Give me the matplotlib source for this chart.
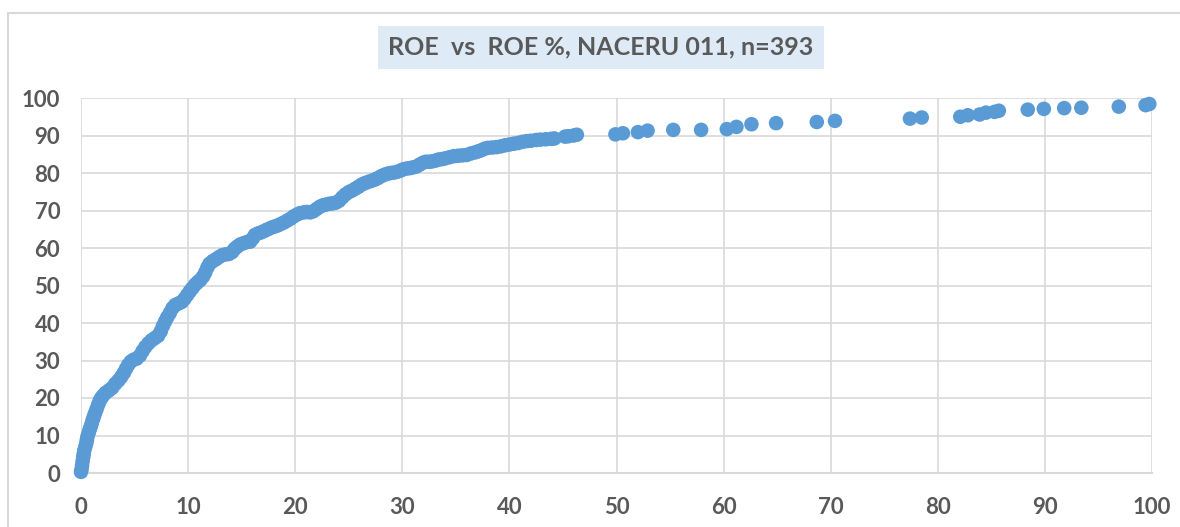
import matplotlib.pyplot as plt
from matplotlib.patches import Rectangle

# ROE (x) and cumulative share in % (y)
roe = [
    0.0, 0.05, 0.1, 0.15, 0.2, 0.25, 0.3, 0.4, 0.5, 0.55, 0.6, 0.7, 0.8, 0.9,
    1.0, 1.1, 1.2, 1.3, 1.45, 1.6, 1.75, 1.9, 2.05,
    2.3, 2.6, 2.9, 3.2, 3.5, 3.75, 4.0, 4.2, 4.4, 4.65, 4.9, 5.2,
    5.5, 5.75, 6.0, 6.3, 6.6, 6.9, 7.2, 7.45, 7.65, 7.85, 8.05, 8.3, 8.55,
    8.8, 9.1, 9.4, 9.65, 9.9, 10.15, 10.4,
    10.65, 10.9, 11.15, 11.4, 11.6, 11.8, 12.0, 12.3, 12.6, 12.9, 13.2, 13.5,
    13.8, 14.1, 14.35, 14.6, 14.9, 15.2, 15.5, 15.8, 16.05, 16.25, 16.55,
    16.85, 17.15, 17.45, 17.75, 18.05, 18.35, 18.65, 18.95, 19.25, 19.55,
    19.85, 20.15, 20.45, 20.8, 21.1, 21.4, 21.7, 22.0, 22.3, 22.6, 22.9,
    23.2, 23.5, 23.8, 24.1, 24.4, 24.7, 25.0, 25.3, 25.6, 25.9, 26.2, 26.5,
    26.8, 27.1, 27.4, 27.7, 28.0, 28.3, 28.6, 28.9, 29.2, 29.5, 29.8, 30.1,
    30.4, 30.7, 31.0, 31.3, 31.6, 31.9, 32.2, 32.5, 32.8, 33.1, 33.4, 33.7,
    34.0, 34.4, 34.8, 35.2, 35.6, 36.0, 36.4, 36.8, 37.1, 37.4, 37.7, 38.0,
    38.4, 38.8, 39.2, 39.6, 40.0, 40.4, 40.8, 41.2, 41.6, 42.0, 42.5, 42.9,
    43.4, 43.9, 44.2, 45.2, 45.5, 46.0, 46.3,
    49.9, 50.6, 52.0, 52.9, 55.3, 57.9, 60.3, 61.2, 62.6, 64.9,
    68.7, 70.4, 77.4, 78.5, 82.1, 82.8, 83.9, 84.5, 85.3, 85.7,
    88.4, 89.9, 91.8, 93.4, 96.9, 99.4, 99.75,
]
roe_pct = [
    0.3, 1.0, 2.0, 3.1, 4.2, 5.0, 6.0, 7.0, 8.0, 8.9, 9.7, 10.6, 11.5, 12.3,
    13.2, 14.2, 15.0, 15.9, 17.0, 18.2, 19.3, 20.0, 20.6,
    21.4, 22.0, 22.7, 23.8, 24.7, 25.6, 26.7, 27.8, 28.8, 29.7, 30.2, 30.5,
    31.3, 32.5, 33.6, 34.6, 35.4, 36.0, 36.6, 37.8, 39.2, 40.4, 41.5, 42.7, 44.0,
    44.8, 45.2, 45.6, 46.4, 47.4, 48.4, 49.3,
    50.2, 50.9, 51.5, 52.4, 53.5, 54.8, 55.8, 56.5, 57.0, 57.6, 58.1, 58.3,
    58.4, 58.9, 59.8, 60.4, 61.0, 61.3, 61.6, 61.7, 62.6, 63.5, 63.9,
    64.2, 64.6, 65.0, 65.4, 65.7, 66.0, 66.4, 66.8, 67.3, 67.8,
    68.4, 68.9, 69.3, 69.5, 69.6, 69.5, 69.8, 70.4, 71.0, 71.4, 71.6,
    71.8, 71.9, 72.1, 72.6, 73.5, 74.3, 74.9, 75.3, 75.8, 76.3, 76.9, 77.3,
    77.6, 77.9, 78.2, 78.6, 79.1, 79.5, 79.8, 80.0, 80.1, 80.3, 80.6, 81.0,
    81.2, 81.3, 81.5, 81.7, 82.2, 82.7, 83.0, 83.0, 83.1, 83.3, 83.6, 83.7,
    83.9, 84.2, 84.5, 84.6, 84.7, 84.8, 85.2, 85.5, 85.8, 86.1, 86.5, 86.7,
    86.8, 86.9, 87.1, 87.4, 87.6, 87.8, 88.0, 88.3, 88.5, 88.6, 88.8, 88.9,
    89.0, 89.1, 89.2, 89.7, 89.8, 90.0, 90.2,
    90.3, 90.6, 90.9, 91.3, 91.5, 91.5, 91.7, 92.3, 93.0, 93.3,
    93.6, 93.9, 94.5, 94.8, 95.0, 95.4, 95.6, 96.1, 96.3, 96.6,
    96.9, 97.1, 97.3, 97.4, 97.7, 98.1, 98.4,
]
x_ticks = [0, 10, 20, 30, 40, 50, 60, 70, 80, 90, 100]
y_ticks = [0, 10, 20, 30, 40, 50, 60, 70, 80, 90, 100]
title = "ROE  vs  ROE %, NACERU 011, n=393"

text_grey = "#595959"
grid_grey = "#D9D9D9"
blue = "#5B9BD5"

fig = plt.figure(figsize=(11.8, 5.27), dpi=100)
ax = fig.add_axes([81 / 1180, 1 - 473 / 527, (1152 - 81) / 1180, (473 - 98) / 527])

ax.scatter(roe, roe_pct, s=110, color=blue, edgecolors="none", clip_on=False, zorder=3)

ax.set_xlim(0, 100)
ax.set_ylim(0, 100)
ax.set_xticks(x_ticks)
ax.set_yticks(y_ticks)
ax.grid(True, color=grid_grey, linewidth=1.2)
ax.set_axisbelow(True)
for side in ["top", "right", "left"]:
    ax.spines[side].set_visible(False)
ax.spines["bottom"].set_color(grid_grey)
ax.spines["bottom"].set_linewidth(1.5)
ax.tick_params(length=0, labelsize=16, labelcolor=text_grey)
ax.tick_params(axis="y", pad=15)
ax.tick_params(axis="x", pad=17)
for lab in ax.get_xticklabels() + ax.get_yticklabels():
    lab.set_fontfamily("Lato")
    lab.set_fontweight("bold")

# title in a light blue box, like the Excel chart
fig.text(601 / 1180, 1 - 47 / 527, title, ha="center", va="center",
         fontsize=18, fontweight="bold", color=text_grey, family="Lato",
         bbox=dict(boxstyle="square,pad=0.4", facecolor="#DEEAF6", edgecolor="none"))

# outer chart frame (only left and top edges show in the crop)
fig.patches.append(Rectangle((8 / 1180, -0.1), 1.2, 1 - 13 / 527 + 0.1,
                             transform=fig.transFigure, fill=False,
                             edgecolor=grid_grey, linewidth=1.5))

fig.savefig("out.png", dpi=100)
